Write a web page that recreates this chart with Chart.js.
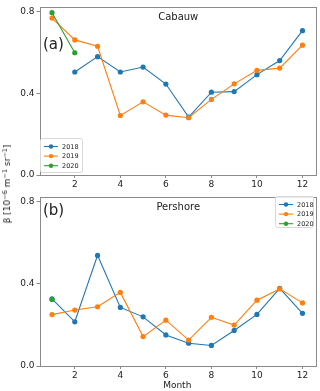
<!DOCTYPE html>
<html>
<head>
<meta charset="utf-8">
<script src="https://cdn.jsdelivr.net/npm/chart.js@4.4.0/dist/chart.umd.min.js"></script>
<style>
  html, body { margin: 0; padding: 0; background: #fff; }
  body { width: 320px; height: 391px; position: relative; overflow: hidden; font-family: 'DejaVu Sans', sans-serif; }
  .panel { position: absolute; left: 0; width: 320px; }
  #top { top: 0; height: 191px; }
  #bottom { top: 190px; height: 201px; }
  #ylabel {
    position: absolute; left: 7px; top: 184px;
    transform: translate(-50%, -50%) rotate(-90deg);
    white-space: nowrap; font-size: 9px; color: #222;
  }
  #ylabel sup { font-size: 6.5px; vertical-align: 3px; line-height: 0; }
</style>
</head>
<body>
<div class="panel" id="top"><canvas id="cabauwChart"></canvas></div>
<div class="panel" id="bottom"><canvas id="pershoreChart"></canvas></div>
<div id="ylabel">β [10<sup>−6</sup> m<sup>−1</sup> sr<sup>−1</sup>]</div>
<script>
const months = [1, 2, 3, 4, 5, 6, 7, 8, 9, 10, 11, 12];
const years = ['2018', '2019', '2020'];
const colors = ['#1f77b4', '#ff7f0e', '#2ca02c'];
const xTicks = [2, 4, 6, 8, 10, 12];
const yTicks = [0.0, 0.4, 0.8];

// Cabauw (a)
const cabauw2018 = [null, 0.504, 0.579, 0.504, 0.528, 0.445, 0.283, 0.405, 0.408, 0.491, 0.560, 0.706];
const cabauw2019 = [0.768, 0.661, 0.630, 0.291, 0.358, 0.293, 0.280, 0.370, 0.446, 0.512, 0.523, 0.635];
const cabauw2020 = [0.794, 0.598];

// Pershore (b)
const pershore2018 = [0.326, 0.215, 0.538, 0.285, 0.239, 0.151, 0.111, 0.100, 0.173, 0.251, 0.378, 0.256];
const pershore2019 = [0.250, 0.272, 0.288, 0.358, 0.143, 0.223, 0.126, 0.237, 0.199, 0.320, 0.375, 0.307];
const pershore2020 = [0.324];

const FONT = "'DejaVu Sans', sans-serif";
const TEXT = '#222';
const SPINE = '#8a8a8a';

function toPoints(values) {
    return values.map((v, i) => ({ x: months[i], y: v })).filter(p => p.y !== null);
}

function makeDatasets(series) {
    return series.map((values, i) => ({
        label: years[i],
        data: toPoints(values),
        borderColor: colors[i],
        backgroundColor: colors[i],
        borderWidth: 1.1,
        pointRadius: 2.6,
        pointBorderWidth: 0,
        tension: 0,
        order: 3 - i
    }));
}

// frame, title, panel letter and legend drawn inside the axes
const panelDecor = {
    id: 'panelDecor',
    afterDatasetsDraw(chart, args, opts) {
        const { ctx, chartArea: a } = chart;
        ctx.save();
        ctx.strokeStyle = SPINE;
        ctx.lineWidth = 1;
        ctx.strokeRect(Math.round(a.left) + 0.5, Math.round(a.top) + 0.5,
            Math.round(a.right - a.left), Math.round(a.bottom - a.top));

        ctx.fillStyle = TEXT;
        ctx.textBaseline = 'middle';
        ctx.textAlign = 'center';
        ctx.font = `10px ${FONT}`;
        ctx.fillText(opts.title, (a.left + a.right) / 2 + 1, a.top + 10);

        ctx.textAlign = 'left';
        ctx.font = `15px ${FONT}`;
        ctx.fillText(opts.letter, opts.letterX, opts.letterY);

        // legend
        const L = opts.legend;
        ctx.fillStyle = 'rgba(255,255,255,0.8)';
        ctx.strokeStyle = '#d8d8d8';
        ctx.beginPath();
        ctx.roundRect(L.x + 0.5, L.y + 0.5, L.w, L.h, 2);
        ctx.fill();
        ctx.stroke();
        ctx.font = `6.5px ${FONT}`;
        chart.data.datasets.forEach((ds, i) => {
            const y = L.y + 8.5 + i * 9.6;
            ctx.strokeStyle = ds.borderColor;
            ctx.fillStyle = ds.borderColor;
            ctx.lineWidth = 1.1;
            ctx.beginPath();
            ctx.moveTo(L.x + 4, y);
            ctx.lineTo(L.x + 18, y);
            ctx.stroke();
            ctx.beginPath();
            ctx.arc(L.x + 11, y, 2.2, 0, Math.PI * 2);
            ctx.fill();
            ctx.fillStyle = TEXT;
            ctx.fillText(ds.label, L.x + 22, y + 0.5);
        });
        ctx.restore();
    }
};

function makeOptions(decor, xHeight, showTitle) {
    return {
        responsive: true,
        maintainAspectRatio: false,
        animation: false,
        layout: { padding: { left: 0, right: 5, top: 3, bottom: 0 } },
        plugins: {
            legend: { display: false },
            tooltip: { enabled: false },
            panelDecor: decor
        },
        scales: {
            x: {
                type: 'linear',
                min: 0.45,
                max: 12.55,
                afterBuildTicks: s => { s.ticks = xTicks.map(v => ({ value: v })); },
                afterFit: s => { s.height = xHeight; },
                grid: { display: true, drawOnChartArea: false, tickLength: 3, color: SPINE },
                border: { display: false },
                ticks: { color: TEXT, font: { family: FONT, size: 9 }, padding: 1, maxRotation: 0 },
                title: {
                    display: showTitle, text: 'Month', color: TEXT,
                    font: { family: FONT, size: 9 }, padding: { top: 0, bottom: 0 }
                }
            },
            y: {
                min: 0,
                max: 0.82,
                afterBuildTicks: s => { s.ticks = yTicks.map(v => ({ value: v })); },
                afterFit: s => { s.width = 39.5; },
                grid: { display: true, drawOnChartArea: false, tickLength: 3, color: SPINE },
                border: { display: false },
                ticks: {
                    color: TEXT, font: { family: FONT, size: 9 }, padding: 2,
                    callback: v => v.toFixed(1)
                }
            }
        }
    };
}

new Chart(document.getElementById('cabauwChart'), {
    type: 'line',
    data: { datasets: makeDatasets([cabauw2018, cabauw2019, cabauw2020]) },
    options: makeOptions({
        title: 'Cabauw', letter: '(a)', letterX: 43, letterY: 45,
        legend: { x: 40, y: 138, w: 42, h: 34 }
    }, 16, false),
    plugins: [panelDecor]
});

new Chart(document.getElementById('pershoreChart'), {
    type: 'line',
    data: { datasets: makeDatasets([pershore2018, pershore2019, pershore2020]) },
    options: makeOptions({
        title: 'Pershore', letter: '(b)', letterX: 43, letterY: 21,
        legend: { x: 275, y: 6, w: 38, h: 31 }
    }, 25, true),
    plugins: [panelDecor]
});
</script>
</body>
</html>
